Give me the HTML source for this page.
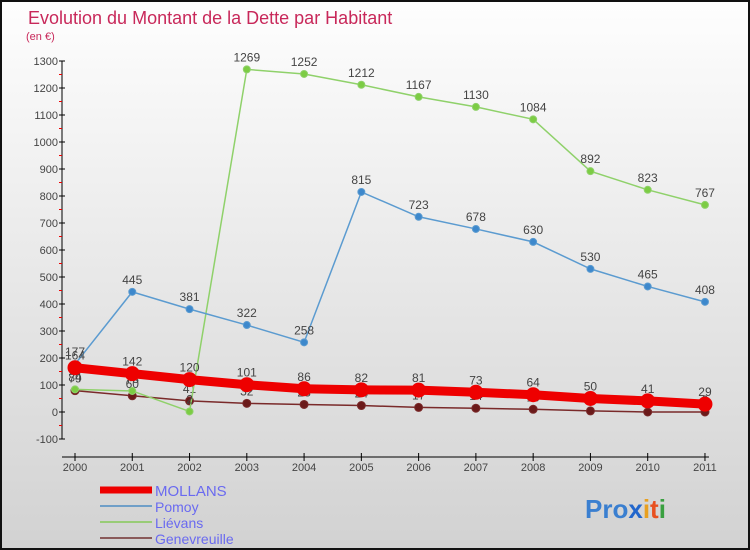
<!DOCTYPE html>
<html><head><meta charset="utf-8"><style>
body{margin:0}
#wrap{width:750px;height:550px;position:relative;box-sizing:border-box;border:2px solid #111;background:linear-gradient(#fefefe,#d2d2d2);font-family:"Liberation Sans",sans-serif;overflow:hidden}
</style></head><body>
<div id="wrap">
<svg id="c" width="746" height="546" style="position:absolute;left:0;top:0"></svg>
</div>
<script>
const years=["2000","2001","2002","2003","2004","2005","2006","2007","2008","2009","2010","2011"];
const yTicks=[-100,0,100,200,300,400,500,600,700,800,900,1000,1100,1200,1300];
const mollans=[164,142,120,101,86,82,81,73,64,50,41,29];
const pomoy=[177,445,381,322,258,815,723,678,630,530,465,408];
const lievans=[84,78,2,1269,1252,1212,1167,1130,1084,892,823,767];
const genevreuille=[79,60,41,32,28,24,17,14,10,4,0,0];
const NS="http://www.w3.org/2000/svg";
const svg=document.getElementById('c');
const ox=-2,oy=-2;
function X(i){return 75+i*57.27+ox;}
function Y(v){return 412-v*0.27+oy;}
function mk(t,a,p){const e=document.createElementNS(NS,t);for(const k in a)e.setAttribute(k,a[k]);(p||svg).appendChild(e);return e;}
function tx(x,y,s,attrs){const e=mk('text',Object.assign({x:x,y:y,'font-size':12,fill:'#444'},attrs||{}));e.textContent=s;return e;}
let t=tx(26,22,"Evolution du Montant de la Dette par Habitant",{'font-size':18,fill:'#c8285a'});


t=tx(24,38,"(en €)",{'font-size':11,fill:'#c8285a'});


const axX=62+ox;
let ax=mk('line',{x1:axX,y1:Y(1300),x2:axX,y2:Y(-100),stroke:'#000'});


yTicks.forEach((v,i)=>{
  mk('line',{x1:axX-3,y1:Y(v),x2:axX+3,y2:Y(v),stroke:'#000'});
  if(i<yTicks.length-1)mk('line',{x1:axX-3,y1:Y(v+50),x2:axX,y2:Y(v+50),stroke:'#e00'});
  const l=tx(axX-4,Y(v)+4,String(v),{'text-anchor':'end','font-size':11});
  
  
});
let bx=mk('line',{x1:axX,y1:Y(-100)+18,x2:X(11)+4,y2:Y(-100)+18,stroke:'#000'});


years.forEach((y,i)=>{
  mk('line',{x1:X(i),y1:Y(-100)+14,x2:X(i),y2:Y(-100)+22,stroke:'#000'});
  const l=tx(X(i),Y(-100)+32,y,{'text-anchor':'middle','font-size':11});
  
  
});
function series(data,color,w,r,fill,name,segs){
  const g=mk('g',{});
  
  
  segs.forEach(s=>{
    const pts=s.map(i=>X(i)+','+Y(data[i])).join(' ');
    mk('polyline',{points:pts,fill:'none',stroke:color,'stroke-width':w},g);
  });
  data.forEach((v,i)=>{
    const c=mk('circle',{cx:X(i),cy:Y(v),r:r,fill:fill,stroke:color,'stroke-width':1},g);
    
    
    const l=tx(X(i),Y(v)-8,String(v),{'text-anchor':'middle'});
    g.appendChild(l);
    
    
  });
}
const all=[[0,1,2,3,4,5,6,7,8,9,10,11]];
series(genevreuille,'#7a2a2a',1.5,4,'#6b1a1a','genevreuille',all);
series(lievans,'#8fd16a',1.5,3.5,'#7ccc44','lievans',[[0,1,2],[2,3,4,5,6,7,8,9,10,11]]);
series(pomoy,'#5b9bd0',1.5,3.5,'#3d88cc','pomoy',all);
series(mollans,'#ee0000',9,7,'#ee0000','mollans',all);
const leg=[["MOLLANS","#ee0000",7,15],["Pomoy","#6f9fc8",2,14],["Liévans","#99cc77",2,14],["Genevreuille","#8a5a5a",2,14]];
leg.forEach((e,i)=>{
  const y=490+i*16+oy;
  const g=mk('g',{});
  
  
  mk('line',{x1:100+ox,y1:y,x2:152+ox,y2:y,stroke:e[1],'stroke-width':e[2]},g);
  const l=tx(155+ox,y+6,e[0],{'font-size':e[3],fill:'#6a6af0'});
  g.appendChild(l);
});
const logo=mk('text',{x:583,y:516,'font-size':26,'font-weight':'bold','font-family':'Liberation Sans, sans-serif'});


[["Pro","#3a7fd0"],["x","#2266cc"],["i","#e8a020"],["t","#e85020"],["i","#3aa040"]].forEach(p=>{const s=mk('tspan',{fill:p[1]},logo);s.textContent=p[0];});
</script>
</body></html>
